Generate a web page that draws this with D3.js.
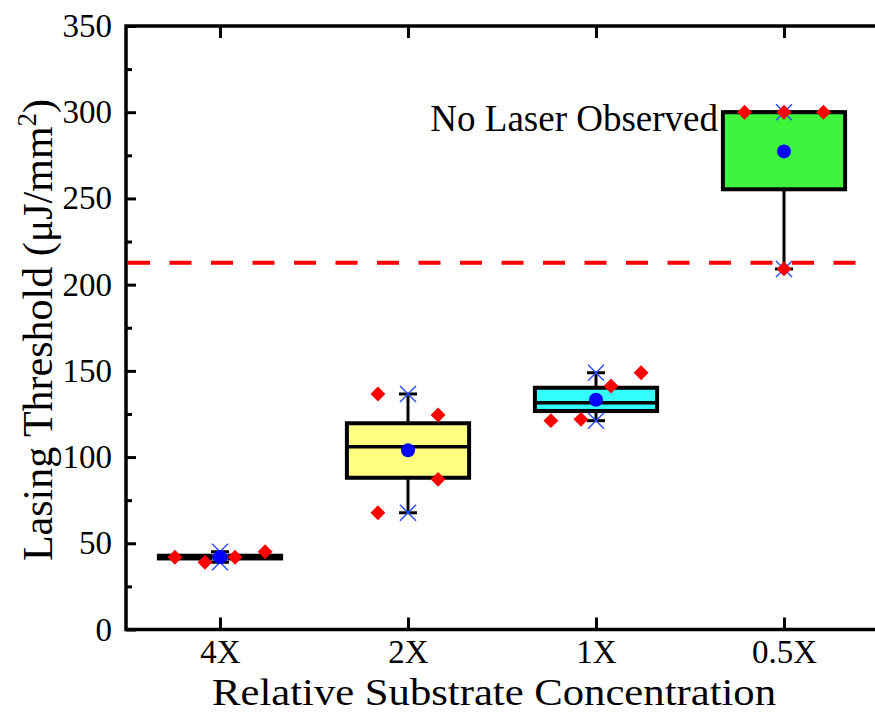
<!DOCTYPE html>
<html>
<head>
<meta charset="utf-8">
<script src="https://cdn.jsdelivr.net/npm/d3@7"></script>
<style>
  html, body { margin: 0; padding: 0; background: #fff; }
  svg { display: block; }
  text { font-family: "Liberation Serif", "Times New Roman", serif; fill: #000; }
</style>
</head>
<body>
<svg id="chart" width="875" height="715"></svg>
<script>
// Relative substrate concentration groups
const categories = ["4X", "2X", "1X", "0.5X"];

// Individual threshold measurements per group (µJ/mm²)
const points = [
  [41.9, 39.0, 41.9, 45.1],
  [136.6, 124.4, 87.1, 67.7],
  [121.1, 121.9, 141.2, 148.9],
  [300, 300, 300, 209.1]
];
// Horizontal spread of the measurement markers, as a fraction of the category step
const jitter = [
  [-0.24, -0.08, 0.08, 0.24],
  [-0.16, 0.16, 0.16, -0.16],
  [-0.24, -0.08, 0.08, 0.24],
  [-0.21, 0, 0.21, 0]
];

// Box statistics per group
const q1 = [41.2, 88.0, 126.7, 255.3];
const median = [41.9, 106.0, 131.5, 300];
const q3 = [42.8, 119.6, 140.2, 300];

const boxColors = ["#000000", "#ffff80", "#33ffff", "#3cf53c"];

// Lasing limit (dashed reference line)
const threshold = 212.7;

const yTicks = [0, 50, 100, 150, 200, 250, 300, 350];
const yMinorTicks = [25, 75, 125, 175, 225, 275, 325];

const svg = d3.select("#chart");
const plotL = 126, plotR = 878, plotT = 26, plotB = 629.5;

const x = d3.scalePoint().domain(categories).range([plotL, plotR]).padding(0.5);
const y = d3.scaleLinear().domain([0, 350]).range([plotB, plotT]);
const step = x.step();
const boxW = step * 0.65;
const capW = 18;

// Dashed threshold line
svg.append("line")
  .attr("x1", plotL + 2).attr("x2", plotR)
  .attr("y1", y(threshold)).attr("y2", y(threshold))
  .attr("stroke", "#ff0000").attr("stroke-width", 4)
  .attr("stroke-dasharray", "22,19.5");

const groups = svg.append("g").selectAll("g")
  .data(categories.map((c, i) => ({
    c, i,
    pts: points[i],
    ext: d3.extent(points[i]),
    mean: d3.mean(points[i])
  })))
  .join("g");

// whiskers
groups.append("line")
  .attr("x1", d => x(d.c)).attr("x2", d => x(d.c))
  .attr("y1", d => y(d.ext[0])).attr("y2", d => y(d.ext[1]))
  .attr("stroke", "#000").attr("stroke-width", 3);
groups.selectAll("line.cap")
  .data(d => d.ext.map(v => ({ c: d.c, v })))
  .join("line").attr("class", "cap")
  .attr("x1", d => x(d.c) - capW / 2).attr("x2", d => x(d.c) + capW / 2)
  .attr("y1", d => y(d.v)).attr("y2", d => y(d.v))
  .attr("stroke", "#000").attr("stroke-width", 3);

// boxes
groups.append("rect")
  .attr("x", d => x(d.c) - boxW / 2)
  .attr("width", boxW)
  .attr("y", d => y(q3[d.i]))
  .attr("height", d => y(q1[d.i]) - y(q3[d.i]))
  .attr("fill", d => boxColors[d.i])
  .attr("stroke", "#000").attr("stroke-width", 4);

// medians
groups.append("line")
  .attr("x1", d => x(d.c) - boxW / 2).attr("x2", d => x(d.c) + boxW / 2)
  .attr("y1", d => y(median[d.i])).attr("y2", d => y(median[d.i]))
  .attr("stroke", "#000").attr("stroke-width", 3.5);

// min / max cross markers
groups.selectAll("path.cross")
  .data(d => d.ext.map(v => ({ c: d.c, v })))
  .join("path").attr("class", "cross")
  .attr("d", d => {
    const cx = x(d.c), cy = y(d.v), h = 8;
    return `M${cx - h},${cy - h}L${cx + h},${cy + h}M${cx - h},${cy + h}L${cx + h},${cy - h}`;
  })
  .attr("stroke", "#3050ff").attr("stroke-width", 1.5).attr("fill", "none");

// mean markers
groups.append("circle")
  .attr("cx", d => x(d.c)).attr("cy", d => y(d.mean))
  .attr("r", 7).attr("fill", "#0000ff");

// individual measurements
const diamond = d3.symbol().type(d3.symbolSquare).size(110);
groups.selectAll("path.pt")
  .data(d => d.pts.map((v, k) => ({ c: d.c, v, off: jitter[d.i][k] })))
  .join("path").attr("class", "pt")
  .attr("d", diamond)
  .attr("transform", d => `translate(${x(d.c) + d.off * step},${y(d.v)}) rotate(45)`)
  .attr("fill", "#ff0000");

// axes
const axisStyle = g => {
  g.select(".domain").remove();
  g.selectAll(".tick line").attr("stroke", "#000").attr("stroke-width", 3);
  g.selectAll(".tick text").style("font-size", "33px").style("font-family", "'Liberation Serif', serif");
};

svg.append("g").attr("transform", `translate(${plotL},0)`)
  .call(d3.axisLeft(y).tickValues(yTicks).tickSize(-10).tickPadding(14).tickFormat(d3.format("d")))
  .call(axisStyle);
svg.append("g").attr("transform", `translate(${plotL},0)`)
  .call(d3.axisLeft(y).tickValues(yMinorTicks).tickSize(-6).tickFormat(""))
  .call(axisStyle);
svg.append("g").attr("transform", `translate(0,${plotB})`)
  .call(d3.axisBottom(x).tickSize(-12).tickPadding(10))
  .call(axisStyle);
svg.append("g").attr("transform", `translate(0,${plotT})`)
  .call(d3.axisTop(x).tickSize(-12).tickFormat(""))
  .call(axisStyle);

// frame
svg.append("rect")
  .attr("x", plotL).attr("y", plotT)
  .attr("width", plotR - plotL).attr("height", plotB - plotT)
  .attr("fill", "none").attr("stroke", "#000").attr("stroke-width", 3.5);

// annotation
svg.append("text")
  .attr("x", 718).attr("y", 131)
  .attr("text-anchor", "end")
  .style("font-size", "37px")
  .text("No Laser Observed");

// axis titles
svg.append("text")
  .attr("x", 494).attr("y", 705)
  .attr("text-anchor", "middle")
  .attr("textLength", 564)
  .attr("lengthAdjust", "spacingAndGlyphs")
  .style("font-size", "38px")
  .text("Relative Substrate Concentration");

const yt = svg.append("text")
  .attr("transform", `translate(52,330) rotate(-90)`)
  .attr("text-anchor", "middle")
  .style("font-size", "42px");
yt.append("tspan").text("Lasing Threshold (μJ/mm");
yt.append("tspan").attr("dy", -16).style("font-size", "27px").text("2");
yt.append("tspan").attr("dy", 16).text(")");
</script>
</body>
</html>
